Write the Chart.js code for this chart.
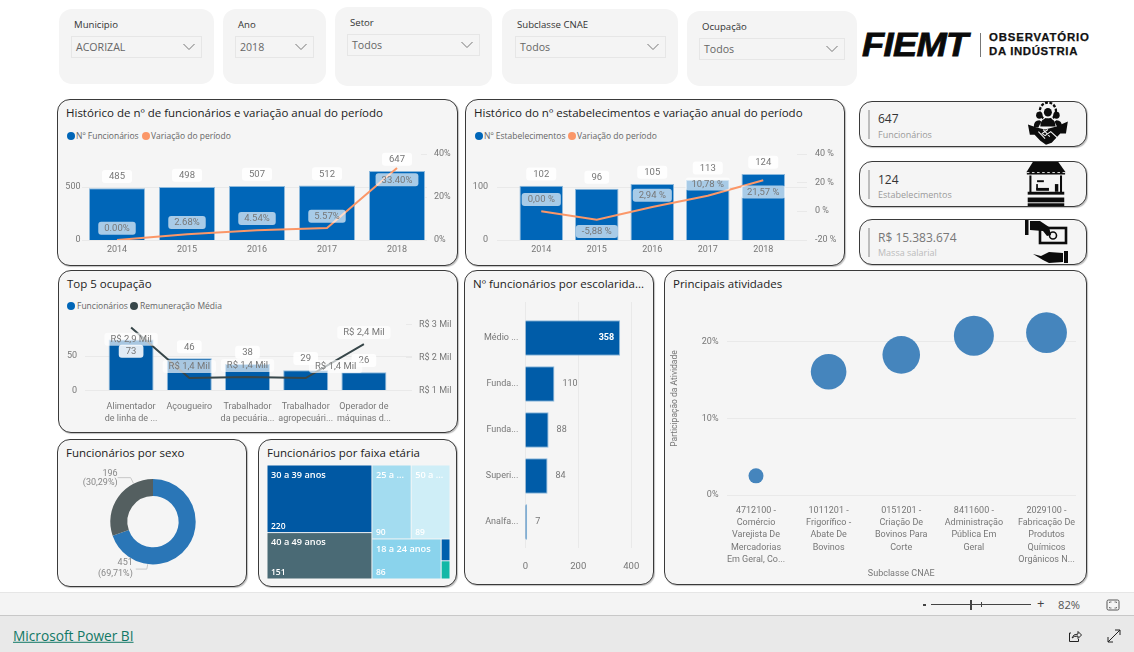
<!DOCTYPE html>
<html lang="pt-BR"><head><meta charset="utf-8"><title>Observatório da Indústria</title>
<script src="https://cdn.jsdelivr.net/npm/chart.js@4"></script>
<style>
html,body{margin:0;padding:0;background:#fff;width:1134px;height:652px;overflow:hidden;font-family:"Open Sans",sans-serif}
#page{position:absolute;left:0;top:0;width:1134px;height:652px;overflow:hidden}
.p{position:absolute;box-sizing:border-box;background:#f5f5f5}
.card{border:1px solid #3a3a3a;border-radius:13px;box-shadow:1px 1px 1px rgba(0,0,0,.25)}
.flt{border-radius:13px;background:#f4f4f4}
.dd{position:absolute;box-sizing:border-box;border:1px solid #e6e6e6}
.t{position:absolute;white-space:nowrap;transform:translateY(-50%);line-height:1.2}
canvas{position:absolute}
svg{position:absolute;overflow:visible}
</style></head><body><div id="page"></div>
<script>
// ---------- data ----------
const years=['2014','2015','2016','2017','2018'];
const funcionarios=[485,498,507,512,647];
const funcionariosTicks=[0,500];
const variacaoFuncionarios=[0,2.68,4.54,5.57,33.40];
const variacaoFuncionariosTicks=[0,20,40];
const estabelecimentos=[102,96,105,113,124];
const estabelecimentosTicks=[0,100];
const variacaoEstabelecimentos=[0,-5.88,2.94,10.78,21.57];
const variacaoEstabelecimentosTicks=[-20,0,20,40];
const ocupacoes=[['Alimentador','de linha de ...'],['Açougueiro'],['Trabalhador','da pecuária...'],['Trabalhador','agropecuári...'],['Operador de','máquinas d...']];
const ocupacaoFuncionarios=[73,46,38,29,26];
const ocupacaoTicks=[0,50];
const ocupacaoRemuneracao=[2900,1370,1400,1370,2400];
const remuneracaoTicks=[1000,2000,3000];
const sexoValores=[451,196];
const faixaNomes=['30 a 39 anos','40 a 49 anos','25 a ...','50 a ...','18 a 24 anos','',''];
const faixaValores=[220,151,90,89,86,6,5];
const escolaridade=['Médio ...','Funda...','Funda...','Superi...','Analfa...'];
const escolaridadeValores=[358,110,88,84,7];
const escolaridadeTicks=[0,200,400];
const atividades=[['4712100 -','Comércio','Varejista De','Mercadorias','Em Geral, Co...'],['1011201 -','Frigorífico -','Abate De','Bovinos'],['0151201 -','Criação De','Bovinos Para','Corte'],['8411600 -','Administração','Pública Em','Geral'],['2029100 -','Fabricação De','Produtos','Químicos','Orgânicos N...']];
const atividadeParticipacao=[2.5,16.1,18.3,20.8,21.2];
const atividadeTamanho=[7.5,17.8,18.8,20,20.4];
const participacaoTicks=[0,10,20];
const filtros=[['Municipio','ACORIZAL'],['Ano','2018'],['Setor','Todos'],['Subclasse CNAE','Todos'],['Ocupação','Todos']];
const cartoes=[['647','Funcionários'],['124','Estabelecimentos'],['R$ 15.383.674','Massa salarial']];

// ---------- colours / fonts ----------
const BLUE='#0066B8',DEEP='#005CA8',ORANGE='#FB9768',SLATE='#374649';
const TICK='#777777',GRID='#e9e9e9';
const UI='"Open Sans",sans-serif',DIN='Roboto,sans-serif';
Chart.defaults.font.family=DIN;Chart.defaults.font.size=9;Chart.defaults.color=TICK;

// ---------- DOM helpers ----------
const page=document.getElementById('page');
function el(tag,cls,css,parent){const e=document.createElement(tag);if(cls)e.className=cls;Object.assign(e.style,css||{});(parent||page).appendChild(e);return e;}
function box(cls,x0,y0,x1,y1){return el('div','p '+cls,{left:x0+'px',top:y0+'px',width:(x1-x0)+'px',height:(y1-y0)+'px'});}
function text(x,y,s,size,color,extra){const e=el('div','t',Object.assign({left:x+'px',top:y+'px',fontSize:size+'px',color:color},extra||{}));e.textContent=s;return e;}
function svg(x,y,w,h,inner){const d=document.createElement('div');d.innerHTML=`<svg xmlns="http://www.w3.org/2000/svg" style="left:${x}px;top:${y}px" width="${w}" height="${h}" viewBox="0 0 ${w} ${h}">${inner}</svg>`;page.appendChild(d.firstChild);}
function legend(y,items){items.forEach(([dx,tx,name,col])=>{el('div','',{position:'absolute',left:dx+'px',top:(y-4)+'px',width:'8px',height:'8px',borderRadius:'50%',background:col});text(tx,y,name,8.5,'#666');});}

// ---------- panels ----------
[[59,9,214,84,71,36,202,58,74,25],[223,9,326,84,235,36,314,58,238,25],[335,7,492,86,347,34,480,56,350,23],[502,9,678,84,515,36,666,58,517,25],[687,11,857,86,699,38,845,60,702,27]].forEach((r,i)=>{
  box('flt',r[0],r[1],r[2],r[3]);
  el('div','dd',{left:r[4]+'px',top:r[5]+'px',width:(r[6]-r[4])+'px',height:(r[7]-r[5])+'px'});
  text(r[8],r[9],filtros[i][0],9.6,'#333');
  text(r[4]+5,(r[5]+r[7])/2,filtros[i][1],10.6,'#666');
  const cx=r[6]-13,cy=(r[5]+r[7])/2;
  svg(cx-6,cy-4,12,8,'<polyline points="0.5,1 6,6.5 11.5,1" fill="none" stroke="#777" stroke-width="1"/>');
});
// logo
text(862,45,'FIEMT',33,'#0a0a0a',{fontFamily:'"Liberation Sans"',fontWeight:'700',fontStyle:'italic',letterSpacing:'-.6px',transform:'translateY(-50%) scaleX(1.1)',transformOrigin:'left center',WebkitTextStroke:'.8px #0a0a0a'});
el('div','',{position:'absolute',left:'980px',top:'33px',width:'1px',height:'24px',background:'#777'});
text(989,38,'OBSERVATÓRIO',11.4,'#111',{fontFamily:'"Liberation Sans"',fontWeight:'700',letterSpacing:'.85px',WebkitTextStroke:'.25px #111'});
text(989,51.5,'DA INDÚSTRIA',11.4,'#111',{fontFamily:'"Liberation Sans"',fontWeight:'700',letterSpacing:'.65px',WebkitTextStroke:'.25px #111'});

[[57,99,458,266],[465,99,845,266],[58,270,458,433],[57,439,247,587],[258,439,457,587],[464,270,654,585],[664,270,1087,585]].forEach(r=>box('card',...r));
const TS=11.5;
text(66,113,'Histórico de nº de funcionários e variação anual do período',TS,'#222');
text(474,113,'Histórico do nº estabelecimentos e variação anual do período',TS,'#222');
text(67,284,'Top 5 ocupação',TS,'#222');
text(66,453,'Funcionários por sexo',TS,'#222');
text(267,453,'Funcionários por faixa etária',TS,'#222');
text(473,284,'Nº funcionários por escolarida...',TS,'#222');
text(673,284,'Principais atividades',TS,'#222');
legend(136,[[67,76,'Nº Funcionários',BLUE],[142,151,'Variação do período',ORANGE]]);
legend(136,[[475,484,'Nº Estabelecimentos',BLUE],[568,577,'Variação do período',ORANGE]]);
legend(306,[[67,77,'Funcionários',BLUE],[130,140,'Remuneração Média',SLATE]]);

// KPI tiles
[[101,147,119,134.5,'#333','#9a9a9a'],[161,207,180,194.7,'#333','#9a9a9a'],[219,264.5,237.5,252.5,'#777','#bbb']].forEach((r,i)=>{
  box('card',858.5,r[0],1087,r[1]);
  el('div','',{position:'absolute',left:'867.5px',top:(r[0]+9)+'px',width:'2px',height:(r[1]-r[0]-17)+'px',background:'#bdbdbd'});
  text(878,r[2],cartoes[i][0],12,r[4]);
  text(878,r[3],cartoes[i][1],9,r[5]);
});
// handshake / people icon
svg(1026.500,102,44,44,`<g transform="scale(.95,1.02)"><g fill="#0c0c0c"><circle cx="22" cy="9" r="8.5" fill="none" stroke="#0c0c0c" stroke-width="2.4" stroke-dasharray="3 1.6"/><circle cx="22" cy="10" r="4.2"/><circle cx="13" cy="13" r="3.4"/><circle cx="31" cy="13" r="3.4"/><path d="M14 24q0-8 8-8t8 8zM7 25q0-7 6-7l2 1-3 6zM37 25q0-7-6-7l-2 1 3 6z"/><path d="M1 22l9 3 9 2 4-1 8-2 12-5-2 12-6 0-9 9-6 2-6-4-6-6-5 0z"/></g><g stroke="#f5f5f5" stroke-width="1.1" fill="none"><path d="M12 29l7 7M17 27l7 7M22 27l-6 4 3 2 6-4 7 6"/></g></g>`);
// market stall icon
svg(1026,162,47,46,`<g transform="scale(.85,.96)"><g fill="#0c0c0c"><path d="M8 0h30l8 10v3H1v-3z"/><rect x="4" y="14" width="2.4" height="19"/><rect x="40" y="14" width="2.4" height="19"/><rect x="13" y="19" width="8" height="2"/><rect x="12" y="23" width="2" height="6"/><rect x="12" y="27" width="15" height="3"/><rect x="34" y="23" width="4" height="8"/><rect x="2" y="31" width="43" height="3"/><rect x="2" y="37" width="43" height="5"/><rect x="2" y="43" width="43" height="3"/></g><g stroke="#f5f5f5" stroke-width="1"><path d="M1 11h45" stroke-dasharray="3 3"/></g></g>`);
// money / hand icon
svg(1025,218,46,46,`<g fill="#0c0c0c"><rect x="0" y="2" width="3.5" height="15"/><path d="M5 3h10l9 6 2 8-4 1-4-5-13-1z"/><rect x="15" y="10" width="26" height="15" fill="none" stroke="#0c0c0c" stroke-width="2.6"/><circle cx="28" cy="17.5" r="3.5" fill="none" stroke="#0c0c0c" stroke-width="1.6"/><rect x="39" y="33" width="4" height="12"/><path d="M8 36l8 2 8-4 14 1v9l-14 1-6-3z"/></g>`);

// footer
el('div','',{position:'absolute',left:0,top:'592px',width:'1134px',height:'23px',background:'#f4f4f4',borderTop:'1px solid #e6e6e6',boxSizing:'border-box'});
el('div','',{position:'absolute',left:0,top:'615px',width:'1134px',height:'37px',background:'#e9e9e9',borderTop:'1px solid #c8c8c8',boxSizing:'border-box'});
el('div','',{position:'absolute',left:'923px',top:'604px',width:'3px',height:'2px',background:'#444'});
el('div','',{position:'absolute',left:'931px',top:'604px',width:'100px',height:'1px',background:'#444'});
el('div','',{position:'absolute',left:'970px',top:'600px',width:'2px',height:'10px',background:'#444'});
el('div','',{position:'absolute',left:'981px',top:'602px',width:'1px',height:'5px',background:'#444'});
text(1037,604,'+',13,'#444');
text(1058,605,'82%',11.2,'#555');
svg(1106,599,14,12,'<rect x="1" y="1" width="12" height="10" rx="1.5" fill="none" stroke="#555"/><path d="M3.5 4V3h2M10.500 4V3h-2M3.500 8v1h2M10.500 8v1h-2" fill="none" stroke="#555" stroke-width=".8"/>');
text(13,636,'Microsoft Power BI',13.7,'#117865',{textDecoration:'underline'});
svg(1068,629,14,14,'<path d="M3 4H1.500v8.500h9V10" fill="none" stroke="#222"/><path d="M4 9q1-4 6-4V2.500L13.500 6 10 9.500V7q-4 0-6 2z" fill="none" stroke="#222"/>');
svg(1107,629,14,14,'<path d="M13 1L1 13M8 1h5v5M1 8v5h5" fill="none" stroke="#222"/>');

// ---------- chart plugins ----------
const forceArea={id:'forceArea',afterLayout(chart,args,o){
  const A={left:o.l-o.bx,top:o.t-o.by,right:o.r-o.bx,bottom:o.b-o.by};
  A.width=A.right-A.left;A.height=A.bottom-A.top;chart.chartArea=A;
  const set=(s,l,t,r,b)=>{if(!s)return;s.left=l;s.top=t;s.right=r;s.bottom=b;s.width=r-l;s.height=b-t;s.configure();};
  set(chart.scales.y,0,A.top,A.left,A.bottom);
  set(chart.scales.y1,A.right,A.top,o.bw,A.bottom);
  set(chart.scales.x,A.left,A.bottom,A.right,o.bh);
}};
const pbiLabels={id:'pbiLabels',afterDatasetsDraw(chart,a,opts){
  const ctx=chart.ctx;
  (opts.sets||[]).forEach(s=>{
    const els=chart.getDatasetMeta(s.ds).data;
    ctx.save();ctx.font=(s.fontPx||9.5)+'px '+DIN;ctx.textAlign='center';ctx.textBaseline='middle';
    s.texts.forEach((txt,i)=>{
      const p=els[i],side=s.sides?s.sides[i]:-1,dx=s.nudge?s.nudge[i]:0;
      const cx=p.x+dx,cy=p.y+side*11.7;
      const w=ctx.measureText(txt).width+(s.padX||12),h=13;
      ctx.fillStyle=s.bg;ctx.beginPath();ctx.roundRect(cx-w/2,cy-h/2,w,h,3);ctx.fill();
      ctx.fillStyle=s.color||TICK;ctx.fillText(txt,cx,cy+.5);
    });
    ctx.restore();
  });
}};
const hbarLabels={id:'hbarLabels',afterDatasetsDraw(chart,a,opts){
  if(!opts.on)return;const ctx=chart.ctx,els=chart.getDatasetMeta(0).data;
  ctx.save();ctx.textBaseline='middle';
  chart.data.datasets[0].data.forEach((v,i)=>{
    const inside=(i===0);
    ctx.font=(inside?'bold ':'')+'9px '+DIN;ctx.fillStyle=inside?'#fff':TICK;
    ctx.textAlign=inside?'right':'left';
    ctx.fillText(String(v),els[i].x+(inside?-6:8),els[i].y);
  });ctx.restore();
}};
const extendGrid={id:'extendGrid',beforeDatasetsDraw(chart,a,opts){
  if(!opts.on)return;const ctx=chart.ctx,s=chart.scales.x,c=chart.chartArea;
  ctx.save();ctx.strokeStyle=GRID;ctx.lineWidth=1;
  s.ticks.forEach(t=>{const x=Math.round(s.getPixelForValue(t.value))+.5;ctx.beginPath();ctx.moveTo(x,c.top-opts.above);ctx.lineTo(x,c.bottom+opts.below);ctx.stroke();});
  ctx.restore();
}};
const comboGrid={id:'comboGrid',beforeDatasetsDraw(chart,a,o){
  if(o.from===undefined)return;const ctx=chart.ctx,Y=chart.scales.y,Y1=chart.scales.y1,ox=o.ox;
  ctx.save();ctx.strokeStyle=GRID;ctx.lineWidth=1;
  const seg=(y,x0,x1)=>{const p=Math.round(y)+.5;ctx.beginPath();ctx.moveTo(x0-ox,p);ctx.lineTo(x1-ox,p);ctx.stroke();};
  Y.ticks.forEach(t=>seg(Y.getPixelForValue(t.value),o.from,o.to));
  Y1.ticks.forEach(t=>seg(Y1.getPixelForValue(t.value),o.to-o.dash,o.to));
  ctx.restore();
}};
const donutLeaders={id:'donutLeaders',afterDatasetsDraw(chart,a,opts){
  if(!opts.on)return;const ctx=chart.ctx,arcs=chart.getDatasetMeta(0).data,vals=chart.data.datasets[0].data;
  const total=vals.reduce((p,c)=>p+c,0);
  ctx.save();ctx.font='9px '+DIN;ctx.textBaseline='middle';ctx.textAlign='right';
  arcs.forEach((arc,i)=>{
    const ang=opts.angles[i]*Math.PI/180,up=Math.cos(ang)>0;
    const ex=arc.x+Math.sin(ang)*arc.outerRadius,ey=arc.y-Math.cos(ang)*arc.outerRadius;
    const kx=up?ex-3:ex-1,ky=up?ey-6:ey+5,rx=kx-(up?13:11);
    ctx.strokeStyle='#c8c8c8';ctx.lineWidth=1;ctx.beginPath();ctx.moveTo(ex,ey);ctx.lineTo(kx,ky);ctx.lineTo(rx,ky);ctx.stroke();
    ctx.fillStyle='#888';
    const tx=up?rx:rx-3,pct='('+(vals[i]/total*100).toFixed(2).replace('.',',')+'%)';
    ctx.fillText(String(vals[i]),tx,up?ky-4.3:ky-6);
    ctx.fillText(pct,tx,up?ky+5.3:ky+4.7);
  });
  ctx.restore();
}};
function treemapRects(v){
  const total=v.reduce((a,b)=>a+b,0),left=v[0]+v[1],right=total-left,top=v[2]+v[3],bottom=v[4]+v[5]+v[6],tiny=v[5]+v[6];
  const r=[];
  r.push([0,0,left,v[0]/left]);
  r.push([0,v[0]/left,left,1]);
  const ty=top/right;
  r.push([left,0,left+right*v[2]/top,ty]);
  r.push([left+right*v[2]/top,0,total,ty]);
  const bx=left+right*v[4]/bottom;
  r.push([left,ty,bx,1]);
  r.push([bx,ty,total,ty+(1-ty)*v[5]/tiny]);
  r.push([bx,ty+(1-ty)*v[5]/tiny,total,1]);
  return r;
}
const treemapDraw={id:'treemapDraw',afterDatasetsDraw(chart,a,opts){
  if(!opts.on)return;const ctx=chart.ctx,X=chart.scales.x,Y=chart.scales.y;
  treemapRects(faixaValores).forEach((r,i)=>{
    const x0=X.getPixelForValue(r[0]),x1=X.getPixelForValue(r[2]),y0=Y.getPixelForValue(r[1]),y1=Y.getPixelForValue(r[3]);
    ctx.fillStyle=opts.colors[i];ctx.fillRect(x0+.5,y0+.5,x1-x0-1,y1-y0-1);
    if(!faixaNomes[i])return;
    ctx.fillStyle='#fff';ctx.textBaseline='middle';ctx.textAlign='left';
    ctx.font='600 9.2px '+UI;ctx.fillText(faixaNomes[i],x0+4,y0+10);
    ctx.font='600 8.5px '+UI;ctx.fillText(String(faixaValores[i]),x0+4,y1-6);
  });
}};

// ---------- chart factory: plot area is pinned after layout ----------
function mount(b,a,cfg){
  const c=document.createElement('canvas');
  c.width=b.w;c.height=b.h;c.style.left=b.x+'px';c.style.top=b.y+'px';c.style.width=b.w+'px';c.style.height=b.h+'px';
  page.appendChild(c);
  Object.assign(cfg.options,{responsive:false,animation:false,devicePixelRatio:1});
  cfg.options.plugins=Object.assign({legend:{display:false},tooltip:{enabled:false},forceArea:{l:a.l,t:a.t,r:a.r,b:a.b,bx:b.x,by:b.y,bw:b.w,bh:b.h}},cfg.options.plugins);
  cfg.plugins=[forceArea,comboGrid,pbiLabels,hbarLabels,extendGrid,donutLeaders,treemapDraw];
  return new Chart(c.getContext('2d'),cfg);
}
const fixedTicks=vals=>ax=>{ax.ticks=vals.map(value=>({value}));};
const BAR_BG='rgba(255,255,255,.88)',LINE_BG='rgba(255,255,255,.66)';
const fmtDot=v=>v.toFixed(2)+'%',fmtComma=v=>v.toFixed(2).replace('.',',')+' %';
function combo(b,a,o){
  return mount(b,a,{type:'bar',data:{labels:o.labels,datasets:[
    {type:'line',label:o.lineName,data:o.line,yAxisID:'y1',borderColor:o.lineColor,borderWidth:2,pointRadius:0,tension:0,order:0},
    {type:'bar',label:o.barName,data:o.bars,yAxisID:'y',backgroundColor:o.barColor,borderColor:'#8db9dc',borderWidth:{top:1,left:1,right:1,bottom:0},categoryPercentage:1,barPercentage:o.barPct,order:1}
  ]},options:{
    scales:{
      x:{offset:true,grid:{display:false,drawTicks:false},border:{display:false},ticks:{minRotation:0,maxRotation:0,autoSkip:false,padding:o.xPad,color:TICK,font:{size:9,lineHeight:1.33}}},
      y:{position:'left',min:o.yMin,max:o.yMax,afterBuildTicks:fixedTicks(o.yTicks),grid:{display:false,drawTicks:false},border:{display:false},ticks:{autoSkip:false,padding:o.yPad,color:TICK}},
      y1:{position:'right',min:o.rMin,max:o.rMax,afterBuildTicks:fixedTicks(o.rTicks),grid:{display:false,drawTicks:false},border:{display:false},ticks:{autoSkip:false,padding:o.rPad,color:TICK,callback:o.rFmt}}
    },
    plugins:{
      comboGrid:{from:o.gridFrom,to:o.gridTo,dash:o.gridDash,ox:b.x},
      pbiLabels:{sets:[
        {ds:1,texts:o.barTexts,sides:o.barSides,bg:BAR_BG,padX:14},
        {ds:0,texts:o.lineTexts,sides:o.lineSides,nudge:o.lineNudge,bg:LINE_BG,padX:12}
      ]}}
  }});
}
combo({x:60,y:145,w:396,h:118},{l:82,t:153.7,r:432,b:240},{
  labels:years,bars:funcionarios,line:variacaoFuncionarios,barName:'Nº Funcionários',lineName:'Variação do período',
  barColor:BLUE,lineColor:ORANGE,barPct:.8,yMin:0,yMax:809,yTicks:funcionariosTicks,rMin:0,rMax:40,rTicks:variacaoFuncionariosTicks,rFmt:v=>v+'%',rPad:2,xPad:4,yPad:1.5,gridFrom:82,gridTo:427,gridDash:6,
  barTexts:funcionarios.map(String),lineTexts:variacaoFuncionarios.map(fmtDot),lineSides:[-1,-1,-1,-1,1]});
combo({x:468,y:145,w:374,h:118},{l:513.5,t:153.7,r:791,b:240},{
  labels:years,bars:estabelecimentos,line:variacaoEstabelecimentos,barName:'Nº Estabelecimentos',lineName:'Variação do período',
  barColor:BLUE,lineColor:ORANGE,barPct:.784,yMin:0,yMax:162,yTicks:estabelecimentosTicks,rMin:-20,rMax:40,rTicks:variacaoEstabelecimentosTicks,rFmt:v=>v+' %',rPad:24,xPad:4,yPad:25.5,gridFrom:497,gridTo:807,gridDash:10,
  barTexts:estabelecimentos.map(String),lineTexts:variacaoEstabelecimentos.map(fmtComma),lineSides:[-1,1,-1,-1,1]});
combo({x:60,y:315,w:396,h:116},{l:102,t:324.3,r:393,b:390.3},{
  labels:ocupacoes,bars:ocupacaoFuncionarios,line:ocupacaoRemuneracao,barName:'Funcionários',lineName:'Remuneração Média',
  barColor:DEEP,lineColor:SLATE,barPct:.773,yMin:0,yMax:95,yTicks:ocupacaoTicks,rMin:1000,rMax:3000,rTicks:remuneracaoTicks,rFmt:v=>'R$ '+v/1000+' Mil',rPad:26,xPad:10,yPad:25,gridFrom:85,gridTo:412,gridDash:6,
  barTexts:ocupacaoFuncionarios.map(String),barSides:[1,-1,-1,-1,-1],
  lineTexts:ocupacaoRemuneracao.map(v=>'R$ '+(v/1000).toFixed(1).replace('.',',')+' Mil'),lineSides:[1,-1,-1,-1,-1],lineNudge:[0,0,0,30,0]});

// donut
mount({x:60,y:462,w:185,h:122},{l:110.3,t:479,r:195.7,b:564.4},{type:'doughnut',
  data:{labels:['Masculino','Feminino'],datasets:[{data:sexoValores,backgroundColor:['#2A76B7','#545F60'],borderWidth:0}]},
  options:{cutout:'60%',plugins:{donutLeaders:{on:true,angles:[187,333]}}}});

// treemap
const tmTotal=faixaValores.reduce((a,b)=>a+b,0);
mount({x:262,y:462,w:192,h:120},{l:267,t:465,r:450,b:579},{type:'scatter',
  data:{datasets:[{data:treemapRects(faixaValores).map((r,i)=>({x:(r[0]+r[2])/2,y:(r[1]+r[3])/2,v:faixaValores[i]})),pointRadius:0}]},
  options:{
    scales:{x:{type:'linear',min:0,max:tmTotal,display:false},y:{type:'linear',min:0,max:1,reverse:true,display:false}},
    plugins:{treemapDraw:{on:true,colors:['#0058A3','#4A6A75','#A3DCF0','#CFEEF7','#8AD3EC','#005FAD','#13B8A6']}}
  }});

// horizontal bars
mount({x:467,y:298,w:184,h:284},{l:525.3,t:315,r:640,b:545},{type:'bar',
  data:{labels:escolaridade,datasets:[{label:'Funcionários',data:escolaridadeValores,backgroundColor:DEEP,borderColor:'#8db9dc',borderWidth:{top:1,bottom:1,right:1,left:0},categoryPercentage:1,barPercentage:.776}]},
  options:{indexAxis:'y',
    scales:{
      x:{min:0,max:433,afterBuildTicks:fixedTicks(escolaridadeTicks),grid:{display:false,drawTicks:false},border:{display:false},ticks:{autoSkip:false,minRotation:0,maxRotation:0,padding:16,color:TICK,font:{size:9.5}}},
      y:{grid:{display:false,drawTicks:false},border:{display:false},ticks:{padding:7,color:TICK,autoSkip:false}}
    },
    plugins:{hbarLabels:{on:true},extendGrid:{on:true,above:13,below:3}}
  }});

// bubbles
mount({x:670,y:300,w:414,h:281},{l:726.5,t:302,r:1076,b:495},{type:'bubble',
  data:{datasets:[{label:'Participação da Atividade',data:atividadeParticipacao.map((v,i)=>({x:i,y:v,r:atividadeTamanho[i]})),backgroundColor:'#4585BD',borderWidth:0,clip:false}]},
  options:{
    scales:{
      x:{type:'linear',min:-.406,max:4.406,grid:{display:false,drawTicks:false},border:{display:false},
        afterBuildTicks:fixedTicks(atividades.map((_,i)=>i)),
        title:{display:true,text:'Subclasse CNAE',color:TICK,font:{size:9},padding:{top:0,bottom:2}},
        ticks:{autoSkip:false,minRotation:0,maxRotation:0,padding:9.6,color:TICK,font:{size:9,lineHeight:1.36},callback:v=>atividades[v]||''}},
      y:{min:0,max:25.2,afterBuildTicks:fixedTicks(participacaoTicks),grid:{color:GRID,drawTicks:false},border:{display:false},
        title:{display:true,text:'Participação da Atividade',color:TICK,font:{size:8.5},padding:0},
        ticks:{autoSkip:false,padding:8,color:TICK,callback:v=>v+'%'}}
    }
  }});
</script></body></html>
